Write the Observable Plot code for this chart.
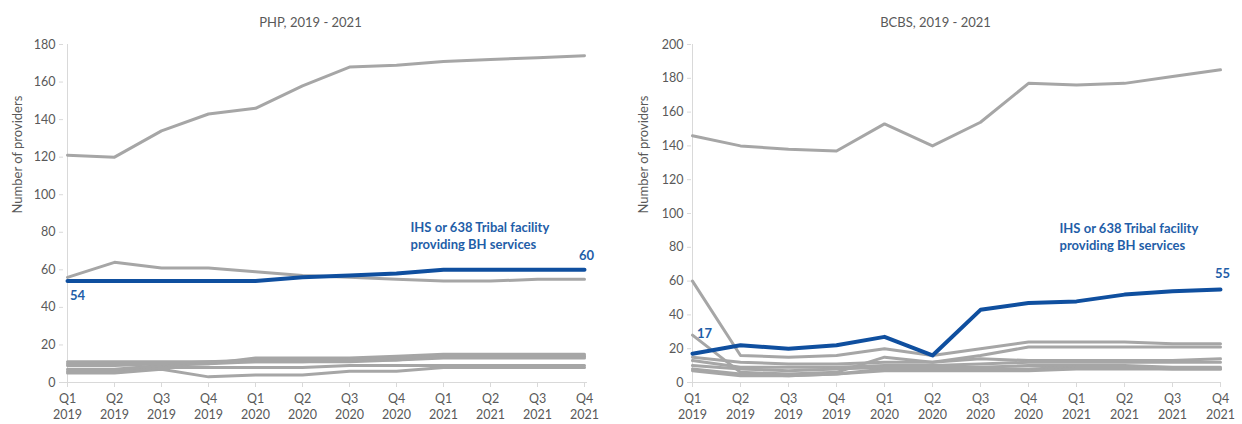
<!DOCTYPE html>
<html>
<head>
<meta charset="utf-8">
<script src="https://cdn.jsdelivr.net/npm/d3@7"></script>
<script src="https://cdn.jsdelivr.net/npm/@observablehq/plot@0.6"></script>
<style>
  body { margin: 0; background: #fff; }
  #wrap { display: flex; width: 1242px; height: 424px; }
</style>
</head>
<body>
<div id="wrap"></div>
<script>
const quarters = ["Q1\n2019","Q2\n2019","Q3\n2019","Q4\n2019","Q1\n2020","Q2\n2020","Q3\n2020","Q4\n2020","Q1\n2021","Q2\n2021","Q3\n2021","Q4\n2021"];

// PHP panel
const phpTitle = "PHP, 2019 - 2021";
const phpBlue = [54, 54, 54, 54, 54, 56, 57, 58, 60, 60, 60, 60];
const phpGrey1 = [121, 120, 134, 143, 146, 158, 168, 169, 171, 172, 173, 174];
const phpGrey2 = [56, 64, 61, 61, 59, 57, 56, 55, 54, 54, 55, 55];
const phpGrey3 = [5, 5, 7, 3, 4, 4, 6, 6, 8, 8, 8, 8];
const phpGrey4 = [6, 6, 8, 8, 8, 8, 9, 9, 9, 9, 9, 9];
const phpGrey5 = [7, 7, 9, 10, 13, 13, 13, 14, 15, 15, 15, 15];
const phpGrey6 = [9, 9, 10, 10, 11, 11, 12, 12, 14, 14, 14, 14];
const phpGrey7 = [10, 10, 10, 11, 11, 11, 11, 12, 13, 13, 13, 13];
const phpGrey8 = [11, 11, 11, 11, 12, 12, 12, 13, 14, 14, 14, 14];

// BCBS panel
const bcbsTitle = "BCBS, 2019 - 2021";
const bcbsBlue = [17, 22, 20, 22, 27, 16, 43, 47, 48, 52, 54, 55];
const bcbsGrey1 = [146, 140, 138, 137, 153, 140, 154, 177, 176, 177, 181, 185];
const bcbsGrey2 = [60, 16, 15, 16, 20, 16, 20, 24, 24, 24, 23, 23];
const bcbsGrey3 = [28, 6, 5, 6, 15, 12, 14, 13, 13, 13, 13, 14];
const bcbsGrey4 = [15, 12, 11, 11, 12, 12, 16, 21, 21, 21, 21, 21];
const bcbsGrey5 = [13, 9, 9, 9, 10, 10, 11, 12, 12, 12, 12, 12];
const bcbsGrey6 = [10, 8, 7, 8, 9, 9, 9, 10, 10, 10, 9, 9];
const bcbsGrey7 = [8, 5, 4, 5, 8, 8, 8, 8, 9, 9, 8, 8];
const bcbsGrey8 = [7, 4, 4, 5, 7, 7, 7, 7, 8, 8, 8, 8];

const yLabel = "Number of providers";
const annotation = "IHS or 638 Tribal facility\nproviding BH services";

const GREY = "#a6a6a6";
const BLUE = "#0f4f9f";
const ANNO = "#1f5ea8";
const AXIS = "#d9d9d9";
const TEXT = "#595959";

function toLong(seriesList) {
  const out = [];
  seriesList.forEach((arr, si) => arr.forEach((v, i) => out.push({s: si, q: quarters[i], v})));
  return out;
}

function panel(cfg) {
  const grey = toLong(cfg.grey);
  const blue = toLong([cfg.blue]);
  const first = blue[0], last = blue[blue.length - 1];
  return Plot.plot({
    width: 621,
    height: 424,
    marginLeft: cfg.ml,
    marginRight: cfg.mr,
    marginTop: 44,
    marginBottom: 42,
    style: {fontFamily: "Lato, 'Open Sans', sans-serif", fontSize: "12.5px", color: TEXT, background: "#fff", overflow: "visible"},
    x: {type: "point", domain: quarters, padding: 0},
    y: {domain: [0, cfg.ymax]},
    marks: [
      Plot.ruleY([0], {stroke: AXIS, strokeWidth: 1}),
      Plot.ruleX([quarters[0]], {stroke: AXIS, strokeWidth: 1}),
      Plot.axisY({ticks: d3.range(0, cfg.ymax + 1, 20), tickSize: 4, tickPadding: 4, stroke: AXIS, fill: TEXT, label: null}),
      Plot.axisX({tickSize: 5, tickPadding: 4, stroke: AXIS, fill: TEXT, label: null, lineHeight: 1.28}),
      Plot.text([cfg.title], {frameAnchor: "top", dy: -27, dx: cfg.titleDx, fill: TEXT, fontSize: 13}),
      Plot.text([yLabel], {frameAnchor: "left", rotate: -90, dx: cfg.labDx, fill: TEXT, fontSize: 13}),
      Plot.line(grey, {x: "q", y: "v", z: "s", stroke: GREY, strokeWidth: 3, strokeLinejoin: "round"}),
      Plot.line(blue, {x: "q", y: "v", stroke: BLUE, strokeWidth: 4, strokeLinejoin: "round"}),
      Plot.text([first], {x: "q", y: "v", text: d => String(d.v), dx: cfg.firstDx, dy: cfg.firstDy, fill: ANNO, fontWeight: "bold", fontSize: 13}),
      Plot.text([last], {x: "q", y: "v", text: d => String(d.v), dx: 2, dy: cfg.lastDy, fill: ANNO, fontWeight: "bold", fontSize: 13}),
      Plot.text([{q: quarters[7], v: cfg.annoY}], {x: "q", y: "v", text: () => annotation, textAnchor: "start", lineAnchor: "middle", dx: cfg.annoDx, fill: ANNO, fontWeight: "bold", fontSize: 13, lineHeight: 1.3})
    ]
  });
}

const wrap = document.getElementById("wrap");
wrap.appendChild(panel({
  title: phpTitle, ymax: 180, ml: 63, mr: 34, titleDx: -15, labDx: -46,
  grey: [phpGrey1, phpGrey2, phpGrey3, phpGrey4, phpGrey5, phpGrey6, phpGrey7, phpGrey8],
  blue: phpBlue, firstDx: 10, firstDy: 15, lastDy: -14, annoY: 78.5, annoDx: 14
}));
wrap.appendChild(panel({
  title: bcbsTitle, ymax: 200, ml: 70, mr: 21, titleDx: -21, labDx: -48,
  grey: [bcbsGrey1, bcbsGrey2, bcbsGrey3, bcbsGrey4, bcbsGrey5, bcbsGrey6, bcbsGrey7, bcbsGrey8],
  blue: bcbsBlue, firstDx: 12, firstDy: -20, lastDy: -16, annoY: 86.6, annoDx: 31
}));
</script>
</body>
</html>
